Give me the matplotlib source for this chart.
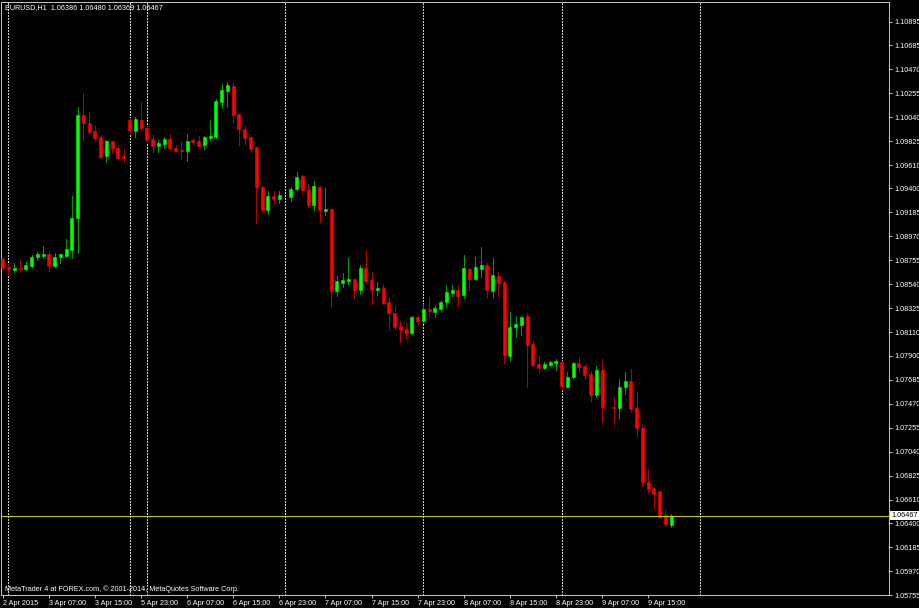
#!/usr/bin/python3

"""plot.py: EURUSD H1 svieckovy graf v style MetaTrader 4."""

import numpy as np
import pandas as pd
import matplotlib
matplotlib.use('Agg')
import matplotlib.pyplot as plt
import matplotlib.transforms as mtransforms

FONT = 'Liberation Sans'
FONT_SIZE = 5.2
BAR_UP = '#00ff00'
BAR_DOWN = '#ff0000'
WICK_UP = '#009c00'
WICK_DOWN = '#b40000'
FRAME = '#c0c0c0'
PX = 0.7                # cca 1 pixel v bodoch

symbol = "EURUSD,H1"
copyright_text = "MetaTrader 4 at FOREX.com, \u00a9 2001-2014, MetaQuotes Software Corp."

# obchodne seansy: zaciatok, pocet hodinovych sviecok
sessions = [("2015-04-02 23:00", 1), ("2015-04-03 00:00", 21), ("2015-04-05 21:00", 95)]

# OHLC odcitane z grafu (nan = sviecka nie je vidiet)
nan = np.nan
o = [1.08767, 1.08698, 1.08668, 1.08683, 1.08677, 1.08707, 1.08787, 1.08794, 1.08812, 1.08707,
     1.08787, 1.08794, 1.08848, 1.09132, 1.10058, 1.09989, 1.09915, 1.09864, 1.09691, 1.09825,
     1.09760, 1.09688, 1.10014, 1.09915, 1.10014, 1.09945, 1.09843, 1.09778, 1.09796, 1.09843,
     1.09765, 1.09747, 1.09736, 1.09832, 1.09825, 1.09789, 1.09855, 1.09861, 1.10178, 1.10276,
     1.10319, 1.10065, 1.09930, 1.09858, 1.09769, 1.09415, 1.09206, 1.09332, 1.09302, nan,
     1.09326, 1.09395, 1.09511, 1.09386, 1.09251, 1.09415, 1.09200, 1.09215, 1.08480, 1.08554,
     1.08572, 1.08587, 1.08489, 1.08683, 1.08578, 1.08489, 1.08504, 1.08378, 1.08280, 1.08166,
     1.08139, 1.08106, 1.08249, 1.08211, 1.08316, 1.08294, 1.08316, 1.08384, 1.08464, 1.08489,
     1.08444, 1.08677, 1.08585, 1.08677, 1.08713, 1.08482, 1.08617, 1.08563, 1.07899, 1.08154,
     1.08175, 1.08256, 1.08004, 1.07825, 1.07792, 1.07816, 1.07831, 1.07846, 1.07621, 1.07711,
     1.07831, 1.07807, 1.07735, 1.07547, 1.07771, nan, 1.07442, 1.07428, 1.07621, 1.07675,
     1.07428, 1.07248, 1.06769, 1.06710, 1.06686, 1.06470, 1.06386]
h = [1.08785, 1.08719, 1.08734, 1.08755, 1.08737, 1.08803, 1.08832, 1.08883, 1.08841, 1.08818,
     1.08814, 1.08946, 1.09332, 1.10133, 1.10253, 1.10088, 1.09962, 1.09879, 1.09834, 1.09830,
     1.09789, 1.09753, 1.10029, 1.10043, 1.10172, 1.09969, 1.09879, 1.09834, 1.09858, 1.09885,
     1.09789, 1.09825, 1.09888, 1.09855, 1.09870, 1.09870, 1.10014, 1.10199, 1.10334, 1.10352,
     1.10343, 1.10070, 1.09960, 1.09864, 1.09775, 1.09422, 1.09379, 1.09379, 1.09379, nan,
     1.09410, 1.09545, 1.09518, 1.09440, 1.09469, 1.09420, 1.09401, 1.09220, 1.08617, 1.08644,
     1.08773, 1.08592, 1.08713, 1.08848, 1.08647, 1.08558, 1.08540, 1.08423, 1.08345, 1.08211,
     1.08181, 1.08258, 1.08264, 1.08363, 1.08423, 1.08345, 1.08393, 1.08534, 1.08534, 1.08534,
     1.08803, 1.08689, 1.08782, 1.08872, 1.08734, 1.08773, 1.08647, 1.08570, 1.08289, 1.08256,
     1.08256, 1.08285, 1.08031, 1.07899, 1.07840, 1.07852, 1.07870, 1.07855, 1.07750, 1.07840,
     1.07890, 1.07816, 1.07756, 1.07807, 1.07867, nan, 1.07532, 1.07688, 1.07750, 1.07777,
     1.07571, 1.07278, 1.06889, 1.06719, 1.06690, 1.06515, 1.06480]
l = [1.08668, 1.08630, 1.08653, 1.08653, 1.08668, 1.08698, 1.08758, 1.08778, 1.08659, 1.08695,
     1.08734, 1.08787, 1.08778, 1.08818, 1.09834, 1.09900, 1.09825, 1.09670, 1.09634, 1.09715,
     1.09670, 1.09640, 1.09900, 1.09864, 1.09933, 1.09819, 1.09724, 1.09724, 1.09760, 1.09753,
     1.09736, 1.09664, 1.09646, 1.09789, 1.09774, 1.09753, 1.09834, 1.09849, 1.10124, 1.10133,
     1.09989, 1.09789, 1.09798, 1.09738, 1.09092, 1.09191, 1.09170, 1.09272, 1.09272, nan,
     1.09290, 1.09386, 1.09356, 1.09231, 1.09206, 1.09101, 1.09161, 1.08339, 1.08438, 1.08518,
     1.08543, 1.08405, 1.08453, 1.08563, 1.08363, 1.08444, 1.08364, 1.08139, 1.08139, 1.08025,
     1.08055, 1.08094, 1.08175, 1.08190, 1.08244, 1.08249, 1.08294, 1.08339, 1.08435, 1.08345,
     1.08414, 1.08489, 1.08578, 1.08608, 1.08423, 1.08423, 1.08438, 1.07837, 1.07855, 1.08064,
     1.08085, 1.07621, 1.07807, 1.07750, 1.07780, 1.07810, 1.07771, 1.07607, 1.07616, 1.07702,
     1.07756, 1.07688, 1.07493, 1.07532, 1.07307, nan, 1.07293, 1.07338, 1.07556, 1.07397,
     1.07179, 1.06731, 1.06680, 1.06536, 1.06450, 1.06372, 1.06369]
c = [1.08686, 1.08674, 1.08689, 1.08674, 1.08710, 1.08787, 1.08809, 1.08812, 1.08704, 1.08787,
     1.08809, 1.08857, 1.09137, 1.10058, 1.09984, 1.09909, 1.09855, 1.09684, 1.09825, 1.09760,
     1.09675, 1.09670, 1.09921, 1.10020, 1.09939, 1.09834, 1.09780, 1.09805, 1.09843, 1.09760,
     1.09738, 1.09733, 1.09825, 1.09816, 1.09783, 1.09858, 1.09870, 1.10187, 1.10283, 1.10328,
     1.10058, 1.09930, 1.09849, 1.09753, 1.09410, 1.09206, 1.09332, 1.09302, 1.09338, nan,
     1.09395, 1.09505, 1.09386, 1.09251, 1.09422, 1.09206, 1.09215, 1.08480, 1.08569, 1.08578,
     1.08585, 1.08489, 1.08683, 1.08572, 1.08489, 1.08504, 1.08369, 1.08285, 1.08160, 1.08130,
     1.08106, 1.08249, 1.08211, 1.08316, 1.08300, 1.08325, 1.08384, 1.08468, 1.08489, 1.08438,
     1.08683, 1.08585, 1.08692, 1.08713, 1.08489, 1.08623, 1.08554, 1.07906, 1.08154, 1.08184,
     1.08244, 1.07995, 1.07816, 1.07786, 1.07825, 1.07840, 1.07852, 1.07628, 1.07711, 1.07831,
     1.07795, 1.07726, 1.07547, 1.07771, 1.07442, nan, 1.07430, 1.07621, 1.07675, 1.07419,
     1.07248, 1.06769, 1.06704, 1.06665, 1.06455, 1.06390, 1.06467]

price_ticks = [1.05755, 1.05970, 1.06185, 1.06400, 1.06610, 1.06825, 1.07040, 1.07255, 1.07470,
               1.07685, 1.07900, 1.08110, 1.08325, 1.08540, 1.08755, 1.08970, 1.09185, 1.09400,
               1.09610, 1.09825, 1.10040, 1.10255, 1.10470, 1.10685, 1.10895]
price_top = 1.11072
last_price = 1.06467
label_step = 8          # popis casu kazdych 8 sviecok

# casy sviecok
cas = pd.DatetimeIndex(np.concatenate(
    [pd.date_range(s, periods=n, freq='h').values for s, n in sessions]))

o, h, l, c = [np.array(a, dtype=float) for a in (o, h, l, c)]
x = np.arange(len(o))
ok = ~np.isnan(o)
up = ok & (c >= o)
dn = ok & (c < o)

fig = plt.figure(figsize=(9.2, 6.08), dpi=100, facecolor='black')
ax = fig.add_axes([1 / 920, 13 / 608, 888 / 920, 593 / 608], facecolor='black')

# oddelovace dni (aj nasledujuci den za poslednou svieckou)
sep = [i for i in range(1, len(cas)) if cas[i].date() != cas[i - 1].date()]
sep.append(len(cas) - 1 + (24 - cas[-1].hour))
for s in sep:
    ax.axvline(s, color='#d0d0d0', lw=PX, ls=(0, (1.4, 1.4)), antialiased=False, zorder=1)

# knoty + tela
ax.vlines(x[up], l[up], h[up], color=WICK_UP, lw=PX, antialiased=False, zorder=2)
ax.vlines(x[dn], l[dn], h[dn], color=WICK_DOWN, lw=PX, antialiased=False, zorder=2)
body_lo = np.fmin(o, c)
body_h = np.fmax(np.abs(c - o), 0.00003)
ax.bar(x[up], body_h[up], bottom=body_lo[up], width=0.52, color=BAR_UP,
       edgecolor=BAR_UP, lw=0.4, zorder=3)
ax.bar(x[dn], body_h[dn], bottom=body_lo[dn], width=0.52, color=BAR_DOWN,
       edgecolor=BAR_DOWN, lw=0.4, zorder=3)

# aktualna cena
ax.axhline(last_price, color='#c8c800', lw=PX, antialiased=False, zorder=4)
trans = mtransforms.blended_transform_factory(ax.transAxes, ax.transData)
ax.text(1.0025, last_price, f"{last_price:.5f}", transform=trans, ha='left', va='center',
        fontsize=FONT_SIZE, family=FONT, color='black', clip_on=False, zorder=10,
        bbox=dict(boxstyle='square,pad=0.12', fc='white', ec='none'))

ax.set_xlim(-0.3, 153.8)
ax.set_ylim(price_ticks[0], price_top)

# osi
ax.yaxis.tick_right()
ax.set_yticks(price_ticks)
ax.set_yticklabels([f"{p:.5f}" for p in price_ticks], family=FONT)
ticks = list(range(0, len(cas), label_step))
labels = [f"{cas[0].day} {cas[0]:%b %Y}"] + [f"{cas[i].day} {cas[i]:%b %H:%M}" for i in ticks[1:]]
ax.set_xticks(ticks)
ax.set_xticklabels(labels, ha='left', family=FONT)
ax.tick_params(axis='y', direction='out', length=2.5, width=0.75, color=FRAME,
               labelcolor='white', labelsize=FONT_SIZE, pad=1.2)
ax.tick_params(axis='x', direction='out', length=2.5, width=0.75, color=FRAME,
               labelcolor='white', labelsize=FONT_SIZE, pad=0.8)
for sp in ax.spines.values():
    sp.set_color(FRAME)
    sp.set_linewidth(0.75)

# texty v grafe
ax.text(0.005, 1 - 5.5 / 593, f"{symbol}  1.06386 1.06480 1.06369 1.06467", transform=ax.transAxes,
        ha='left', va='center', fontsize=FONT_SIZE, family=FONT, color='white')
ax.text(0.005, 6 / 593, copyright_text, transform=ax.transAxes,
        ha='left', va='center', fontsize=FONT_SIZE, family=FONT, color='white')

plt.savefig("out.png", dpi=100, facecolor='black')
